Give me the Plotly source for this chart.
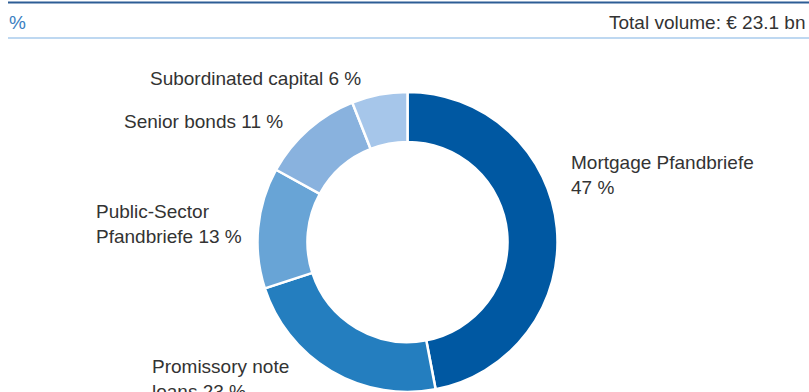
import plotly.graph_objects as go

# Funding volume by instrument, share in %
categories = [
    "Mortgage Pfandbriefe",
    "Promissory note loans",
    "Public-Sector Pfandbriefe",
    "Senior bonds",
    "Subordinated capital",
]
shares = [47, 23, 13, 11, 6]
# where each label wraps onto a second line (word index after which to break; None = single line)
label_breaks = [2, 2, 1, None, None]
colors = ["#0058a2", "#247ebf", "#68a4d6", "#89b2de", "#a6c6ea"]
total_volume = "€ 23.1 bn"
unit_label = "%"

W, H = 809, 392
cx, cy, r = 407.5, 242.0, 150.0


def px_x(x):
    return x / W


def px_y(y):
    return 1 - y / H


def label_text(name, value, brk):
    words = name.split(" ")
    if brk is None:
        return f"{name} {value} %"
    second = " ".join(words[brk:] + [f"{value} %"])
    return " ".join(words[:brk]) + "<br>" + second


fig = go.Figure(
    go.Pie(
        labels=categories,
        values=shares,
        hole=0.667,
        sort=False,
        direction="clockwise",
        rotation=0,
        marker=dict(colors=colors, line=dict(color="white", width=2.5)),
        textinfo="none",
        showlegend=False,
        domain=dict(x=[px_x(cx - r), px_x(cx + r)], y=[px_y(cy + r), px_y(cy - r)]),
    )
)

# outside label positions (left edge, vertical centre) in pixels
label_pos = [(569, 175), (150, 379), (94, 224), (122, 121), (148, 78)]
font = dict(family="Liberation Sans, Arial, sans-serif", size=19, color="#333333")
for name, value, brk, (lx, ly) in zip(categories, shares, label_breaks, label_pos):
    fig.add_annotation(
        x=px_x(lx), y=px_y(ly), xref="paper", yref="paper",
        text=label_text(name, value, brk), showarrow=False,
        xanchor="left", yanchor="middle", align="left", font=font,
    )

# header row
fig.add_annotation(
    x=px_x(7), y=px_y(22), xref="paper", yref="paper", text=unit_label,
    showarrow=False, xanchor="left", yanchor="middle",
    font=dict(family="Liberation Sans, Arial, sans-serif", size=19, color="#3b7ec1"),
)
fig.add_annotation(
    x=px_x(807), y=px_y(22), xref="paper", yref="paper",
    text=f"Total volume: {total_volume}", showarrow=False,
    xanchor="right", yanchor="middle", font=font,
)
fig.add_shape(type="line", xref="paper", yref="paper",
              x0=px_x(8), x1=1, y0=px_y(2.5), y1=px_y(2.5),
              line=dict(color="#2d5d95", width=2))
fig.add_shape(type="line", xref="paper", yref="paper",
              x0=px_x(8), x1=1, y0=px_y(38), y1=px_y(38),
              line=dict(color="#a9cbec", width=1.5))

fig.update_layout(
    width=W, height=H,
    margin=dict(l=0, r=0, t=0, b=0),
    paper_bgcolor="white", plot_bgcolor="white",
)

fig.write_html("out.html")
